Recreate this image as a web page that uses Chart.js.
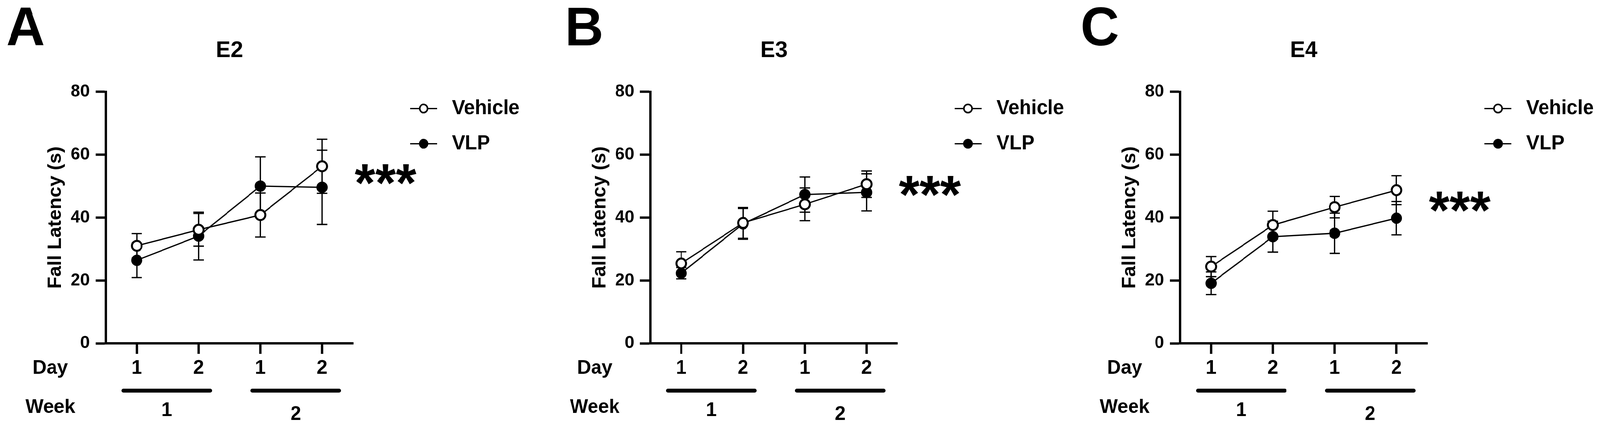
<!DOCTYPE html>
<html>
<head>
<meta charset="utf-8">
<script src="https://cdn.jsdelivr.net/npm/chart.js@4.4.1/dist/chart.umd.min.js"></script>
<style>
    html, body { margin: 0; padding: 0; background: #fff; overflow: hidden; }
    #wrap { position: relative; width: 4170px; height: 1092px; overflow: hidden; background: #fff; transform-origin: 0 0; }
    .panel { position: absolute; top: 0; width: 1370px; height: 1092px; }
</style>
</head>
<body>
<div id="wrap">
    <div class="panel" style="left:0px"><canvas id="chartA" width="1370" height="1092"></canvas></div>
    <div class="panel" style="left:1419px"><canvas id="chartB" width="1370" height="1092"></canvas></div>
    <div class="panel" style="left:2800px"><canvas id="chartC" width="1370" height="1092"></canvas></div>
</div>
<script>
// categories and labels
const dayLabels = ["1", "2", "1", "2"];
const weekLabels = ["1", "2"];
const yTicks = [0, 20, 40, 60, 80];
const seriesNames = ["Vehicle", "VLP"];
const panelLetters = ["A", "B", "C"];
const panelTitles = ["E2", "E3", "E4"];
const significance = ["***", "***", "***"];

// E2 means and SEM
const e2Vehicle = [31.0, 36.1, 40.8, 56.3];
const e2VehicleSem = [3.9, 5.2, 7.0, 8.6];
const e2Vlp = [26.4, 34.1, 50.0, 49.6];
const e2VlpSem = [5.5, 7.6, 9.3, 11.8];

// E3
const e3Vehicle = [25.4, 38.3, 44.2, 50.6];
const e3VehicleSem = [3.7, 4.9, 5.2, 4.2];
const e3Vlp = [22.3, 38.0, 47.3, 48.0];
const e3VlpSem = [1.8, 4.9, 5.6, 5.9];

// E4
const e4Vehicle = [24.4, 37.6, 43.3, 48.7];
const e4VehicleSem = [3.2, 4.4, 3.4, 4.6];
const e4Vlp = [19.1, 33.9, 35.0, 39.8];
const e4VlpSem = [3.6, 4.9, 6.4, 5.3];

const FONT = '"Liberation Sans", Arial, Helvetica, sans-serif';

// small per-panel placement tweaks (not data)
const letterX = [16, 53, 16];
const weekShift = [-2, 12];
const weekDrop = [0, 10];

// the page is laid out 4170 wide; squeeze it if the window is narrower
const pageScale = Math.min(1, window.innerWidth / 4170);
document.getElementById("wrap").style.transform = `scaleX(${pageScale})`;

// error bars drawn under the lines and markers
const errorBars = {
    id: "errorBars",
    beforeDatasetsDraw(chart) {
        const ctx = chart.ctx;
        const y = chart.scales.y;
        ctx.save();
        ctx.strokeStyle = "#000";
        ctx.lineWidth = 3.3;
        chart.data.datasets.forEach((ds, i) => {
            const meta = chart.getDatasetMeta(i);
            ds.data.forEach((v, j) => {
                const px = meta.data[j].x;
                const top = y.getPixelForValue(v + ds.sem[j]);
                const bot = y.getPixelForValue(v - ds.sem[j]);
                ctx.beginPath();
                ctx.moveTo(px, top);
                ctx.lineTo(px, bot);
                ctx.moveTo(px - 13.5, top);
                ctx.lineTo(px + 13.5, top);
                ctx.moveTo(px - 13.5, bot);
                ctx.lineTo(px + 13.5, bot);
                ctx.stroke();
            });
        });
        ctx.restore();
    }
};

// letter, Day / Week rows, legend and stars
const panelDecor = {
    id: "panelDecor",
    afterDraw(chart, args, opts) {
        const ctx = chart.ctx;
        const x = chart.scales.x;
        const y = chart.scales.y;
        const area = chart.chartArea;
        ctx.save();
        ctx.fillStyle = "#000";
        ctx.strokeStyle = "#000";

        ctx.font = `bold 140px ${FONT}`;
        ctx.textAlign = "left";
        ctx.textBaseline = "alphabetic";
        ctx.fillText(opts.letter, opts.letterX, 116);

        ctx.font = `bold 50px ${FONT}`;
        ctx.textAlign = "center";
        ctx.textBaseline = "middle";
        ctx.fillText("Day", area.left - 145, x.top + 64);
        ctx.fillText("Week", area.left - 145, x.top + 164);

        weekLabels.forEach((w, k) => {
            const p0 = x.getPixelForValue(2 * k);
            const p1 = x.getPixelForValue(2 * k + 1);
            const c = (p0 + p1) / 2 + weekShift[k];
            ctx.lineWidth = 10;
            ctx.lineCap = "round";
            ctx.beginPath();
            ctx.moveTo(c - 113, x.top + 121);
            ctx.lineTo(c + 113, x.top + 121);
            ctx.stroke();
            ctx.fillText(w, c, x.top + 172 + weekDrop[k]);
        });

        // legend
        const lx = area.right + 184;
        chart.data.datasets.forEach((ds, i) => {
            const ly = area.top + 43 + 90 * i;
            ctx.lineWidth = 3.3;
            ctx.lineCap = "butt";
            ctx.beginPath();
            ctx.moveTo(lx - 35, ly);
            ctx.lineTo(lx + 35, ly);
            ctx.stroke();
            ctx.beginPath();
            ctx.arc(lx, ly, 10.5, 0, Math.PI * 2);
            ctx.fillStyle = ds.pointBackgroundColor;
            ctx.fill();
            ctx.lineWidth = 4;
            ctx.stroke();
            ctx.fillStyle = "#000";
            ctx.font = `bold 51px ${FONT}`;
            ctx.textAlign = "left";
            ctx.textBaseline = "middle";
            ctx.fillText(ds.label, lx + 74, ly);
        });

        // significance stars beside the last day, at the mean of the two groups
        const last = dayLabels.length - 1;
        const d = chart.data.datasets;
        const sy = y.getPixelForValue((d[0].data[last] + d[1].data[last]) / 2);
        ctx.font = `bold 138px ${FONT}`;
        ctx.textAlign = "center";
        ctx.textBaseline = "alphabetic";
        ctx.fillText(opts.stars, x.getPixelForValue(last) + 165, sy + 63);
        ctx.restore();
    }
};

const makePanel = (canvasId, idx, vehicle, vehicleSem, vlp, vlpSem) => {
    const ctx = document.getElementById(canvasId).getContext("2d");
    const axisGrid = {
        display: true,
        drawOnChartArea: false,
        drawTicks: true,
        tickLength: 27,
        tickWidth: 6,
        tickColor: "#000"
    };
    const axisBorder = { display: true, color: "#000", width: 6 };

    return new Chart(ctx, {
        type: "line",
        data: {
            labels: dayLabels,
            datasets: [
                {
                    label: seriesNames[0],
                    data: vehicle,
                    sem: vehicleSem,
                    borderColor: "#000",
                    borderWidth: 3.3,
                    pointRadius: 12.8,
                    pointBorderWidth: 5,
                    pointBackgroundColor: "#fff",
                    pointBorderColor: "#000",
                    tension: 0,
                    clip: false
                },
                {
                    label: seriesNames[1],
                    data: vlp,
                    sem: vlpSem,
                    borderColor: "#000",
                    borderWidth: 3.3,
                    pointRadius: 13.5,
                    pointBorderWidth: 2,
                    pointBackgroundColor: "#000",
                    pointBorderColor: "#000",
                    tension: 0,
                    clip: false
                }
            ]
        },
        options: {
            responsive: false,
            devicePixelRatio: 1,
            animation: false,
            layout: { padding: { top: 95, left: 110, right: 450, bottom: 104 } },
            plugins: {
                legend: { display: false },
                tooltip: { enabled: false },
                title: {
                    display: true,
                    text: panelTitles[idx],
                    fullSize: false,
                    color: "#000",
                    font: { family: FONT, size: 58, weight: "bold" },
                    padding: { top: 0, bottom: 70 }
                },
                panelDecor: {
                    letter: panelLetters[idx],
                    letterX: letterX[idx],
                    stars: significance[idx]
                }
            },
            scales: {
                x: {
                    type: "category",
                    offset: true,
                    grid: axisGrid,
                    border: axisBorder,
                    ticks: {
                        color: "#000",
                        font: { family: FONT, size: 50, weight: "bold" },
                        padding: 7,
                        maxRotation: 0,
                        autoSkip: false
                    },
                    afterFit: (scale) => { scale.height = 110; }
                },
                y: {
                    type: "linear",
                    min: 0,
                    max: 80,
                    grid: axisGrid,
                    border: axisBorder,
                    afterBuildTicks: (scale) => {
                        scale.ticks = yTicks.map(v => ({ value: v }));
                    },
                    ticks: {
                        color: "#000",
                        font: { family: FONT, size: 45, weight: "bold" },
                        padding: 15
                    },
                    title: {
                        display: true,
                        text: "Fall Latency (s)",
                        color: "#000",
                        font: { family: FONT, size: 50, weight: "bold" },
                        padding: { top: 5, bottom: 0 }
                    },
                    afterFit: (scale) => { scale.width = 166; }
                }
            }
        },
        plugins: [errorBars, panelDecor]
    });
};

makePanel("chartA", 0, e2Vehicle, e2VehicleSem, e2Vlp, e2VlpSem);
makePanel("chartB", 1, e3Vehicle, e3VehicleSem, e3Vlp, e3VlpSem);
makePanel("chartC", 2, e4Vehicle, e4VehicleSem, e4Vlp, e4VlpSem);
</script>
</body>
</html>
